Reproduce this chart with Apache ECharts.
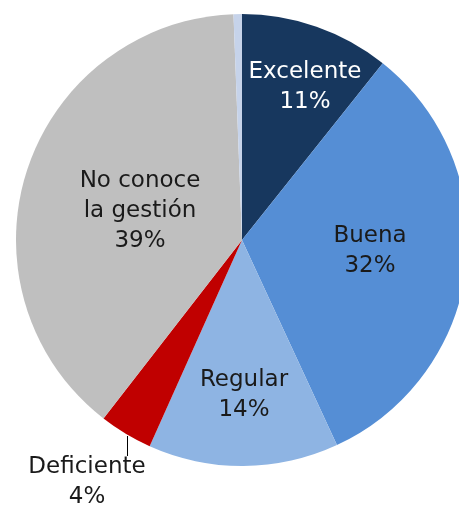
<!DOCTYPE html>
<html>
<head>
<meta charset="utf-8">
<script src="https://cdn.jsdelivr.net/npm/echarts@6/dist/echarts.min.js"></script>
<style>
  html, body { margin: 0; padding: 0; background: #fff; }
  #chart { width: 459px; height: 506px; }
</style>
</head>
<body>
<div id="chart"></div>
<script>
// slices clockwise from 12 o'clock
const categories = ['Excelente', 'Buena', 'Regular', 'Deficiente', 'No conoce\nla gestión', '']
const values = [10.7, 32.4, 13.6, 3.8, 38.9, 0.6]

const sliceColors = ['#17375e', '#558ed5', '#8eb4e3', '#c00000', '#bfbfbf', '#c6d3ea']
const textColors = ['#ffffff', '#1a1a1a', '#1a1a1a', '#1a1a1a', '#1a1a1a', '#1a1a1a']
// label centres picked per slice, like the original layout
const labelPos = [[305, 87], [370, 251], [244, 395], [87, 482], [140, 211], null]

const total = values.reduce((a, b) => a + b, 0)
const chart = echarts.init(document.getElementById('chart'))

chart.setOption({
  animation: false,
  series: [{
    type: 'pie',
    center: [242, 240],
    radius: 226,
    startAngle: 90,
    clockwise: true,
    avoidLabelOverlap: false,
    itemStyle: { borderWidth: 0 },
    label: {
      show: true,
      position: 'inside',
      fontFamily: 'DejaVu Sans',
      fontSize: 23,
      lineHeight: 30,
      align: 'center',
      formatter: p => p.name ? p.name + '\n' + Math.round(p.value / total * 100) + '%' : ''
    },
    labelLine: { show: false },
    labelLayout: params => {
      const pos = labelPos[params.dataIndex]
      if (!pos) return {}
      const out = { x: pos[0], y: pos[1], align: 'center', verticalAlign: 'middle' }
      if (params.dataIndex === 3) {
        out.labelLinePoints = [[127.5, 436], [127.5, 446], [127.5, 456]]
      }
      return out
    },
    data: categories.map((name, i) => ({
      name: name,
      value: values[i],
      itemStyle: { color: sliceColors[i] },
      label: i === 3
        ? { position: 'outside', color: textColors[i] }
        : { color: textColors[i], show: i !== 5 },
      labelLine: i === 3
        ? { show: true, length: 10, length2: 10, lineStyle: { color: '#000', width: 1 } }
        : { show: false }
    }))
  }]
})
</script>
</body>
</html>
